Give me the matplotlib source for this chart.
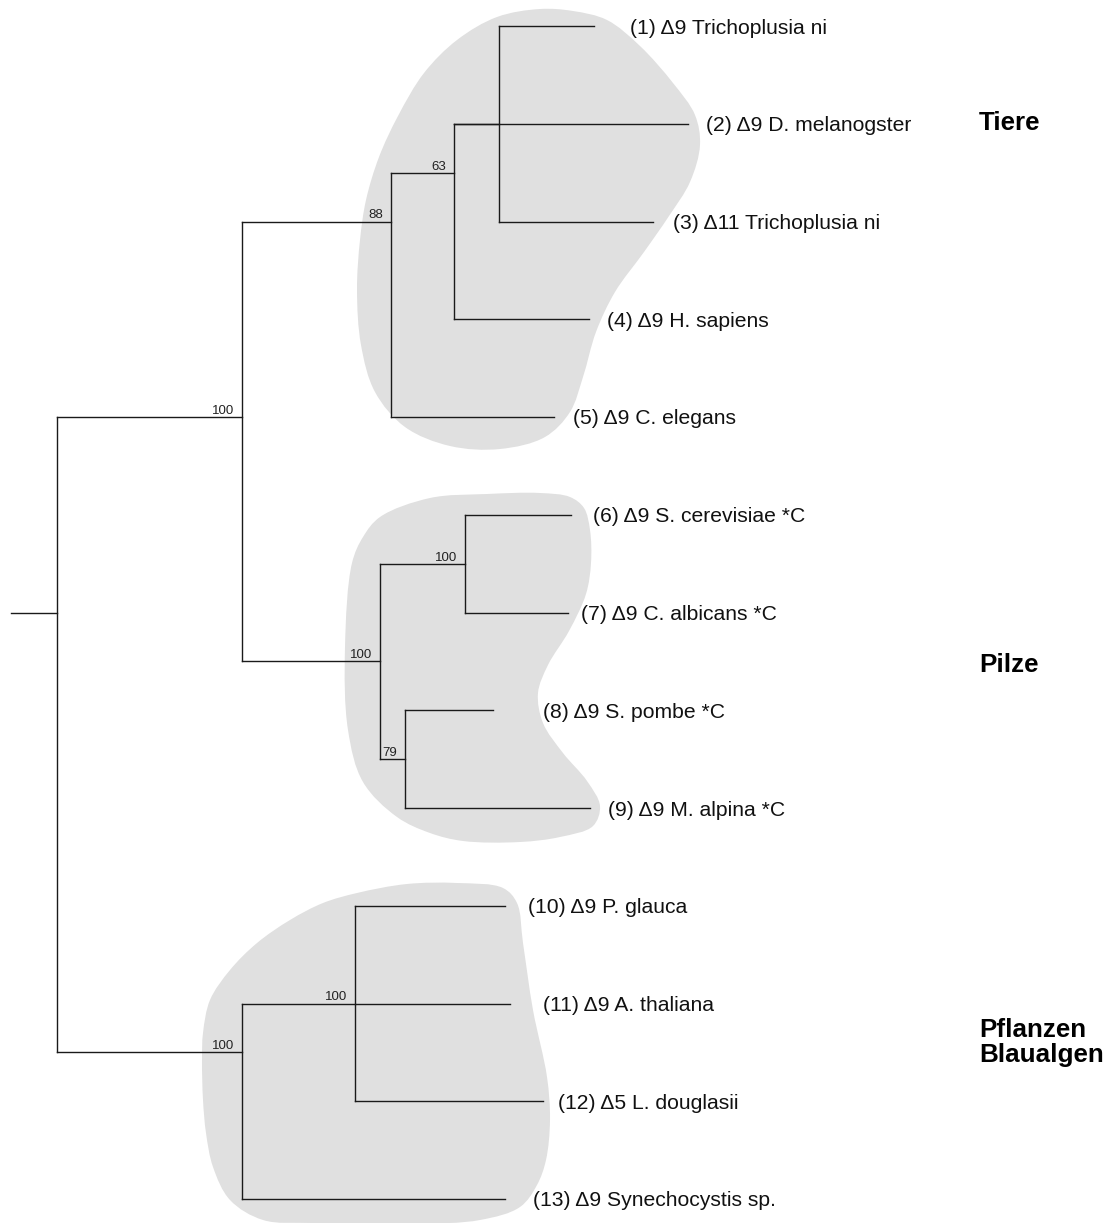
"""Phylogenetic tree of desaturases with shaded groups."""

import numpy as np
import matplotlib

matplotlib.use("Agg")
import matplotlib.pyplot as plt
import matplotlib.transforms as mtransforms
from matplotlib.path import Path
from matplotlib.patches import PathPatch

plt.rcParams["font.family"] = ["Liberation Sans", "DejaVu Sans"]

W, H = 1115, 1223

# --- data -------------------------------------------------------------------
leaf_labels = [
    "(1) \u03949 Trichoplusia ni",
    "(2) \u03949 D. melanogster",
    "(3) \u039411 Trichoplusia ni",
    "(4) \u03949 H. sapiens",
    "(5) \u03949 C. elegans",
    "(6) \u03949 S. cerevisiae *C",
    "(7) \u03949 C. albicans *C",
    "(8) \u03949 S. pombe *C",
    "(9) \u03949 M. alpina *C",
    "(10) \u03949 P. glauca",
    "(11) \u03949 A. thaliana",
    "(12) \u03945 L. douglasii",
    "(13) \u03949 Synechocystis sp.",
]

# internal node: (children, branch length, bootstrap); leaf: (index, branch length)
clade_1_3 = ([(0, 0.095), (2, 0.154)], 0.045, None)
clade_63 = ([clade_1_3, (1, 0.234), (3, 0.135)], 0.063, 63)
animals = ([clade_63, (4, 0.163)], 0.149, 88)
fungi = ([([(5, 0.106), (6, 0.103)], 0.085, 100),
          ([(7, 0.088), (8, 0.185)], 0.025, 79)], 0.138, 100)
plants = ([([(9, 0.150), (10, 0.155), (11, 0.188)], 0.113, 100),
           (12, 0.263)], 0.185, 100)
tree = ([([animals, fungi], 0.185, 100), plants], 0.046, None)

group_names = ["Tiere", "Pilze", "Pflanzen", "Blaualgen"]

# --- layout -----------------------------------------------------------------
label_gap_px = [36, 18, 20, 18, 19, 22, 13, 50, 18, 23, 33, 15, 28]
group_pos_px = [(979, 130), (979, 672), (979, 1037), (979, 1062)]

# blob outlines in reference pixel coordinates
blob_animals = [(540, 9), (573, 11), (607, 20), (640, 46), (673, 83), (695, 115),
                (700, 145), (690, 182), (669, 216), (644, 252), (615, 292),
                (596, 332), (583, 377), (570, 412), (545, 437), (500, 449),
                (450, 446), (405, 427), (375, 392), (361, 345), (357, 290),
                (360, 240), (366, 200), (379, 157), (398, 116), (424, 73),
                (457, 40), (497, 17)]
blob_fungi = [(487, 494), (540, 493), (570, 497), (584, 508), (590, 530),
              (591, 563), (586, 594), (569, 631), (548, 665), (538, 693),
              (543, 723), (563, 753), (587, 781), (600, 806), (593, 826),
              (560, 837), (520, 842), (463, 841), (430, 833), (397, 817),
              (363, 782), (348, 730), (345, 647), (352, 563), (363, 537),
              (380, 517), (430, 498)]
blob_plants = [(457, 883), (503, 888), (517, 903), (523, 943), (533, 1010),
               (547, 1077), (550, 1120), (546, 1160), (537, 1185), (520, 1207),
               (480, 1220), (413, 1224), (313, 1223), (263, 1220), (230, 1200),
               (213, 1167), (206, 1133), (203, 1100), (202, 1060), (203, 1033),
               (210, 1000), (230, 970), (257, 943), (290, 920), (323, 903),
               (357, 893), (407, 884)]

LEAF_Y0, LEAF_DY = 26, 97.75  # pixel y of first leaf, leaf spacing
X0, PX_PER_UNIT = 11, 1000     # pixel x of root stub start, scale

fig = plt.figure(figsize=(W / 100, H / 100), dpi=100)
ax = fig.add_axes([0, 0, 1, 1])
ax.set_xlim(-X0 / PX_PER_UNIT, (W - X0) / PX_PER_UNIT)
ax.set_ylim(12 + (H - (LEAF_Y0 + 12 * LEAF_DY)) / LEAF_DY, -LEAF_Y0 / LEAF_DY)
ax.axis("off")

px_tf = mtransforms.Affine2D().scale(1 / W, -1 / H).translate(0, 1) + fig.transFigure


def smooth_blob(points, alpha=0.5):
    """Closed centripetal Catmull-Rom outline as cubic Bezier segments."""
    pts = np.asarray(points, dtype=float)
    n = len(pts)
    verts = [pts[0]]
    codes = [Path.MOVETO]
    for i in range(n):
        p0, p1, p2, p3 = pts[i - 1], pts[i], pts[(i + 1) % n], pts[(i + 2) % n]
        d0 = np.linalg.norm(p1 - p0) ** alpha
        d1 = np.linalg.norm(p2 - p1) ** alpha
        d2 = np.linalg.norm(p3 - p2) ** alpha
        m1 = d1 * ((p1 - p0) / d0 - (p2 - p0) / (d0 + d1) + (p2 - p1) / d1)
        m2 = d1 * ((p2 - p1) / d1 - (p3 - p1) / (d1 + d2) + (p3 - p2) / d2)
        verts += [p1 + m1 / 3, p2 - m2 / 3, p2]
        codes += [Path.CURVE4] * 3
    verts.append(pts[0])
    codes.append(Path.CLOSEPOLY)
    return Path(verts, codes)


for blob in (blob_animals, blob_fungi, blob_plants):
    ax.add_patch(PathPatch(smooth_blob(blob), transform=px_tf,
                           facecolor="#e0e0e0", edgecolor="none", zorder=0))

LINE = dict(color="#1a1a1a", linewidth=1.0, solid_capstyle="projecting", zorder=2)
support_tf = mtransforms.offset_copy(ax.transData, fig, x=-8, y=3, units="dots")


def draw(node, x_parent):
    if isinstance(node[0], int):
        idx, length = node
        x = x_parent + length
        ax.plot([x_parent, x], [idx, idx], **LINE)
        tf = mtransforms.offset_copy(ax.transData, fig, x=label_gap_px[idx], y=-7.5, units="dots")
        ax.text(x, idx, leaf_labels[idx], transform=tf, fontsize=15.2,
                ha="left", va="baseline", color="#111111")
        return idx, [idx]
    children, length, support = node
    x = x_parent + length
    child_ys, leaves = [], []
    for child in children:
        cy, cl = draw(child, x)
        child_ys.append(cy)
        leaves += cl
    y = float(np.mean(leaves))
    ax.plot([x_parent, x], [y, y], **LINE)
    ax.plot([x, x], [min(child_ys), max(child_ys)], **LINE)
    if support is not None:
        ax.text(x, y, str(support), transform=support_tf, fontsize=9.5,
                ha="right", va="baseline", color="#222222")
    return y, leaves


draw(tree, 0.0)

for name, (gx, gy) in zip(group_names, group_pos_px):
    ax.text(gx, gy, name, transform=px_tf, fontsize=18.7, fontweight="bold",
            ha="left", va="baseline", color="black")

fig.savefig("out.png", dpi=100, facecolor="white")
